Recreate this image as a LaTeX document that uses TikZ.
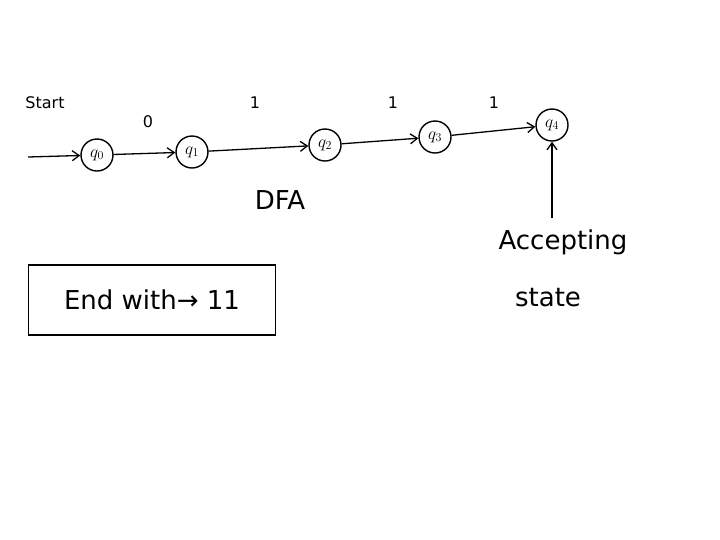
\documentclass[tikz,border=0pt]{standalone}
\usepackage{fontspec}
\setmainfont{DejaVu Sans}
\usetikzlibrary{arrows.meta}
\begin{document}
\begin{tikzpicture}[x=1pt,y=-1pt,
  st/.style={circle,draw,line width=1.4pt,minimum size=32pt,inner sep=0pt,font=\fontsize{17}{20}\selectfont},
  ar/.style={-{Straight Barb[length=7pt,width=10pt]},line width=1.3pt},
  lbl/.style={font=\fontsize{16}{19}\selectfont}]
\fill[white] (0,0) rectangle (720,539);
\useasboundingbox (0,0) rectangle (720,539);
\node[st] (q0) at (97,155) {$q_0$};
\node[st] (q1) at (192,152) {$q_1$};
\node[st] (q2) at (325,145) {$q_2$};
\node[st] (q3) at (435,137) {$q_3$};
\node[st] (q4) at (552,125) {$q_4$};
\coordinate (s) at (28,157);
\coordinate (a) at (552,218);
\draw[ar] (s) -- (q0);
\draw[ar] (q0) -- (q1);
\draw[ar] (q1) -- (q2);
\draw[ar] (q2) -- (q3);
\draw[ar] (q3) -- (q4);
\draw[ar] (a) -- (q4);
\node[lbl] (tstart) at (45,103) {Start};
\node[lbl] (t0) at (148,122) {0};
\node[lbl] (t1) at (255,103) {1};
\node[lbl] (t2) at (393,103) {1};
\node[lbl] (t3) at (494,103) {1};
\node[font=\fontsize{26}{30}\selectfont] (dfa) at (280,200) {DFA};
\node[font=\fontsize{26}{30}\selectfont] (acc) at (563,242) {Accepting};
\node[font=\fontsize{26}{30}\selectfont] (state) at (548,298) {state};
\node[draw,line width=1.3pt,minimum width=247pt,minimum height=70pt,font=\fontsize{26}{30}\selectfont] (box) at (152,300) {End with→ 11};
\end{tikzpicture}
\end{document}
